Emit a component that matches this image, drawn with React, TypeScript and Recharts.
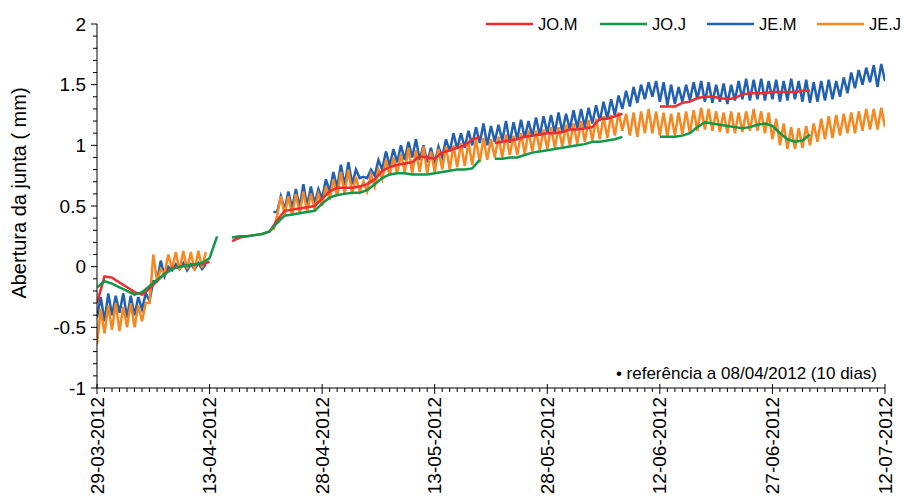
import React from 'react';
import { LineChart, Line, XAxis, YAxis } from 'recharts';

const FONT = '"Liberation Sans", Arial, Helvetica, sans-serif';

// x axis: days counted from 29-03-2012, labels every 15 days
const dateLabels = ['29-03-2012', '13-04-2012', '28-04-2012', '13-05-2012', '28-05-2012', '12-06-2012', '27-06-2012', '12-07-2012'];
const yMajor = [-1, -0.5, 0, 0.5, 1, 1.5, 2];

// JO.M - one value per day (null = no reading)
const joM: (number | null)[] = [
  -0.3, -0.08, -0.09, -0.13, -0.17, -0.21, -0.23, -0.18, -0.12, -0.06, -0.01, 0.0, 0.01, 0.02, 0.02, 0.04,
  null, null,
  0.21, 0.24, 0.25, 0.26, 0.27, 0.29, 0.38, 0.46, 0.47, 0.48, 0.49, 0.5, 0.56, 0.62, 0.65, 0.65, 0.65, 0.66, 0.68, 0.72, 0.79, 0.82, 0.84,
  0.85, 0.86, 0.91, 0.9, 0.89, 0.94, 0.96, 0.98, 1.0, 1.05, 1.07,
  null,
  1.02, 1.03, 1.04, 1.05, 1.07, 1.08, 1.09, 1.1, 1.1, 1.11, 1.13, 1.13, 1.14, 1.15, 1.22, 1.22, 1.24, 1.26,
  null, null, null, null,
  1.32, 1.32, 1.32, 1.35, 1.36, 1.39, 1.4, 1.4, 1.39, 1.38, 1.39, 1.42, 1.43, 1.43, 1.43, 1.44, 1.44, 1.44, 1.44, 1.45, 1.45,
  null, null, null, null, null, null, null, null, null, null,
];

// JO.J - one value per day
const joJ: (number | null)[] = [
  -0.17, -0.12, -0.14, -0.17, -0.2, -0.23, -0.21, -0.16, -0.11, -0.06, -0.02, 0.0, 0.01, 0.02, 0.03, 0.07, 0.25,
  null,
  0.24, 0.25, 0.25, 0.26, 0.27, 0.29, 0.36, 0.42, 0.43, 0.44, 0.45, 0.46, 0.52, 0.57, 0.59, 0.6, 0.61, 0.61, 0.63, 0.68, 0.73, 0.76, 0.77,
  0.77, 0.76, 0.76, 0.76, 0.77, 0.78, 0.79, 0.8, 0.8, 0.81, 0.88,
  null,
  0.89, 0.89, 0.9, 0.9, 0.92, 0.94, 0.95, 0.96, 0.97, 0.98, 0.99, 1.0, 1.01, 1.03, 1.03, 1.04, 1.05, 1.07,
  null, null, null, null,
  1.07, 1.07, 1.07, 1.08, 1.1, 1.15, 1.19, 1.18, 1.17, 1.16, 1.15, 1.14, 1.15, 1.17, 1.18, 1.16, 1.1, 1.05, 1.03, 1.04, 1.09,
  null, null, null, null, null, null, null, null, null, null,
];

// JE.M - daily low and daily high
const jeMLo: (number | null)[] = [
  -0.42, -0.45, -0.4, -0.38, -0.42, -0.4, -0.35, -0.28, -0.12, -0.08, -0.03, -0.02, -0.03, -0.02, -0.02,
  null, null, null, null, null, null, null, null, null,
  0.45, 0.47, 0.48, 0.49, 0.5, 0.52, 0.56, 0.62, 0.65, 0.67, 0.68, 0.73, 0.73, 0.75, 0.8, 0.83, 0.86,
  0.88, 0.9, 0.88, 0.86, 0.85, 0.9, 0.95, 0.97, 0.98, 1.0, 1.02, 1.0, 1.03, 1.04, 1.02, 1.05, 1.06, 1.07, 1.08, 1.1,
  1.1, 1.11, 1.13, 1.14, 1.15, 1.18, 1.2, 1.22, 1.25, 1.3,
  1.32, 1.35, 1.38, 1.4, 1.36, 1.33, 1.34, 1.36, 1.37, 1.38, 1.36, 1.35, 1.36, 1.34, 1.37, 1.38, 1.37, 1.38, 1.37, 1.38,
  1.36, 1.37, 1.38, 1.36, 1.35, 1.36, 1.37, 1.38, 1.4, 1.43, 1.47, 1.5, 1.52, 1.48, 1.53,
];
const jeMHi: (number | null)[] = [
  -0.25, -0.22, -0.24, -0.22, -0.24, -0.25, -0.22, -0.12, 0.05, 0.0, 0.02, 0.03, 0.02, 0.03, 0.02,
  null, null, null, null, null, null, null, null, 0.45,
  0.58, 0.62, 0.64, 0.68, 0.66, 0.64, 0.72, 0.78, 0.84, 0.86, 0.8, 0.74, 0.8, 0.88, 0.95, 0.97, 1.0,
  1.03, 1.05, 1.0, 0.98, 0.99, 1.05, 1.1, 1.1, 1.12, 1.15, 1.18, 1.16, 1.17, 1.2, 1.19, 1.21, 1.2, 1.23, 1.24, 1.25,
  1.27, 1.26, 1.29, 1.3, 1.31, 1.33, 1.36, 1.38, 1.41, 1.45,
  1.48, 1.5, 1.52, 1.53, 1.52, 1.5, 1.48, 1.5, 1.52, 1.53, 1.52, 1.5, 1.51, 1.5, 1.53, 1.55, 1.54, 1.55, 1.53, 1.54,
  1.53, 1.55, 1.53, 1.54, 1.52, 1.53, 1.54, 1.53, 1.56, 1.6, 1.62, 1.64, 1.66, 1.67, null,
];

// JE.J - daily low and daily high
const jeJLo: (number | null)[] = [
  -0.64, -0.55, -0.52, -0.53, -0.5, -0.5, -0.45, -0.3, -0.12, -0.06, -0.02, -0.03, -0.02, -0.03, -0.01,
  null, null, null, null, null, null, null, null, null,
  0.42, 0.43, 0.42, 0.44, 0.45, 0.47, 0.5, 0.55, 0.58, 0.6, 0.6, 0.62, 0.62, 0.66, 0.72, 0.75, 0.77,
  0.78, 0.77, 0.78, 0.77, 0.78, 0.8, 0.8, 0.82, 0.83, 0.84, 0.86, 0.88, 0.9, 0.9, 0.92, 0.92, 0.93, 0.95, 0.96, 0.97,
  0.98, 0.99, 1.0, 1.01, 1.03, 1.04, 1.05, 1.06, 1.08, 1.12,
  1.08, 1.07, 1.1, 1.1, 1.08, 1.07, 1.08, 1.09, 1.1, 1.12, 1.13, 1.12, 1.11, 1.1, 1.1, 1.11, 1.12, 1.12, 1.1, 1.05,
  1.0, 0.97, 0.97, 0.98, 1.0, 1.03, 1.05, 1.06, 1.08, 1.1, 1.1, 1.12, 1.13, 1.13, 1.15,
];
const jeJHi: (number | null)[] = [
  -0.35, -0.32, -0.3, -0.33, -0.3, -0.32, -0.3, 0.1, -0.02, 0.1, 0.12, 0.13, 0.12, 0.13, 0.12,
  null, null, null, null, null, null, null, null, 0.3,
  0.58, 0.58, 0.6, 0.62, 0.6, 0.6, 0.66, 0.72, 0.78, 0.8, 0.74, 0.7, 0.76, 0.8, 0.88, 0.9, 0.93,
  0.98, 0.96, 0.99, 0.95, 0.97, 0.99, 1.0, 1.02, 1.03, 1.05, 1.06, 1.05, 1.07, 1.09, 1.08, 1.1, 1.12, 1.12, 1.13, 1.15,
  1.15, 1.17, 1.18, 1.2, 1.21, 1.22, 1.24, 1.25, 1.27, 1.26,
  1.27, 1.28, 1.3, 1.28, 1.27, 1.26, 1.27, 1.28, 1.29, 1.31, 1.3, 1.28, 1.27, 1.28, 1.27, 1.28, 1.3, 1.28, 1.27, 1.22,
  1.18, 1.15, 1.14, 1.16, 1.18, 1.22, 1.24, 1.25, 1.26, 1.27, 1.28, 1.3, 1.3, 1.31, null,
];

const daily = (vals: (number | null)[]) => vals.map((v, i) => ({ t: i, v }));
const lowHigh = (lo: (number | null)[], hi: (number | null)[]) =>
  lo.flatMap((l, i) => [{ t: i, v: l }, { t: i + 0.5, v: hi[i] }]).filter((p) => p.t <= 105);

const redData = daily(joM);
const greenData = daily(joJ);
const blueData = lowHigh(jeMLo, jeMHi);
const orangeData = lowHigh(jeJLo, jeJHi);

const xTicks = Array.from({ length: 106 }, (_, i) => i);
const yTicks = Array.from({ length: 31 }, (_, i) => (i - 10) / 10);

const XTick = (props: any) => {
  const { x, y, payload } = props;
  const d = payload.value;
  const major = d % 15 === 0;
  const ly = y + 9;
  return (
    <g>
      <line x1={x} x2={x} y1={major ? y - 4 : y} y2={y + (major ? 6 : 4)} stroke="#000" strokeWidth={1} />
      {major && (
        <text
          x={x}
          y={ly}
          transform={`rotate(-90, ${x}, ${ly})`}
          textAnchor="end"
          dominantBaseline="central"
          fontFamily={FONT}
          fontSize={19}
          fill="#000"
        >
          {dateLabels[d / 15]}
        </text>
      )}
    </g>
  );
};

const YTick = (props: any) => {
  const { x, y, payload } = props;
  const v = payload.value;
  const major = yMajor.some((m) => Math.abs(m - v) < 1e-6);
  return (
    <g>
      <line x1={x - (major ? 6 : 4)} x2={x} y1={y} y2={y} stroke="#000" strokeWidth={1} />
      {major && (
        <text x={x - 11} y={y} textAnchor="end" dominantBaseline="central" fontFamily={FONT} fontSize={19} fill="#000">
          {String(Math.round(v * 10) / 10)}
        </text>
      )}
    </g>
  );
};

const legendItems = [
  { name: 'JO.M', color: '#EE2B2F', x: 486 },
  { name: 'JO.J', color: '#11994A', x: 600 },
  { name: 'JE.M', color: '#2160B3', x: 707 },
  { name: 'JE.J', color: '#F7881F', x: 817 },
];

export default function App() {
  return (
    <div style={{ position: 'absolute', left: 0, top: 0, width: 903, height: 497, background: '#fff' }}>
      <LineChart width={903} height={497} margin={{ top: 24, right: 18, bottom: 0, left: 0 }}>
        <XAxis
          type="number"
          dataKey="t"
          domain={[0, 105]}
          allowDataOverflow
          ticks={xTicks}
          interval={0}
          tick={<XTick />}
          tickLine={false}
          tickSize={0}
          tickMargin={0}
          height={109}
          axisLine={{ stroke: '#000', strokeWidth: 1 }}
        />
        <YAxis
          type="number"
          domain={[-1, 2]}
          ticks={yTicks}
          interval={0}
          tick={<YTick />}
          tickLine={false}
          tickSize={0}
          tickMargin={0}
          width={97}
          axisLine={{ stroke: '#000', strokeWidth: 1 }}
        />
        <Line data={blueData} dataKey="v" stroke="#2160B3" strokeWidth={2.5} dot={false} isAnimationActive={false} />
        <Line data={orangeData} dataKey="v" stroke="#F7881F" strokeWidth={2.5} dot={false} isAnimationActive={false} />
        <Line data={redData} dataKey="v" stroke="#EE2B2F" strokeWidth={2.5} dot={false} isAnimationActive={false} />
        <Line data={greenData} dataKey="v" stroke="#11994A" strokeWidth={2.5} dot={false} isAnimationActive={false} />
      </LineChart>
      <svg width={903} height={497} style={{ position: 'absolute', left: 0, top: 0, pointerEvents: 'none' }}>
        <text
          x={19}
          y={193}
          transform="rotate(-90, 19, 193)"
          textAnchor="middle"
          dominantBaseline="central"
          fontFamily={FONT}
          fontSize={20}
          fill="#000"
        >
          Abertura da junta ( mm)
        </text>
        {legendItems.map((it) => (
          <g key={it.name}>
            <line x1={it.x} x2={it.x + 47} y1={24} y2={24} stroke={it.color} strokeWidth={2.5} />
            <text x={it.x + 52} y={24} dominantBaseline="central" fontFamily={FONT} fontSize={16.5} fill="#000">
              {it.name}
            </text>
          </g>
        ))}
        <text x={877} y={373} textAnchor="end" dominantBaseline="central" fontFamily={FONT} fontSize={17} fill="#000">
          • referência a 08/04/2012 (10 dias)
        </text>
      </svg>
    </div>
  );
}
